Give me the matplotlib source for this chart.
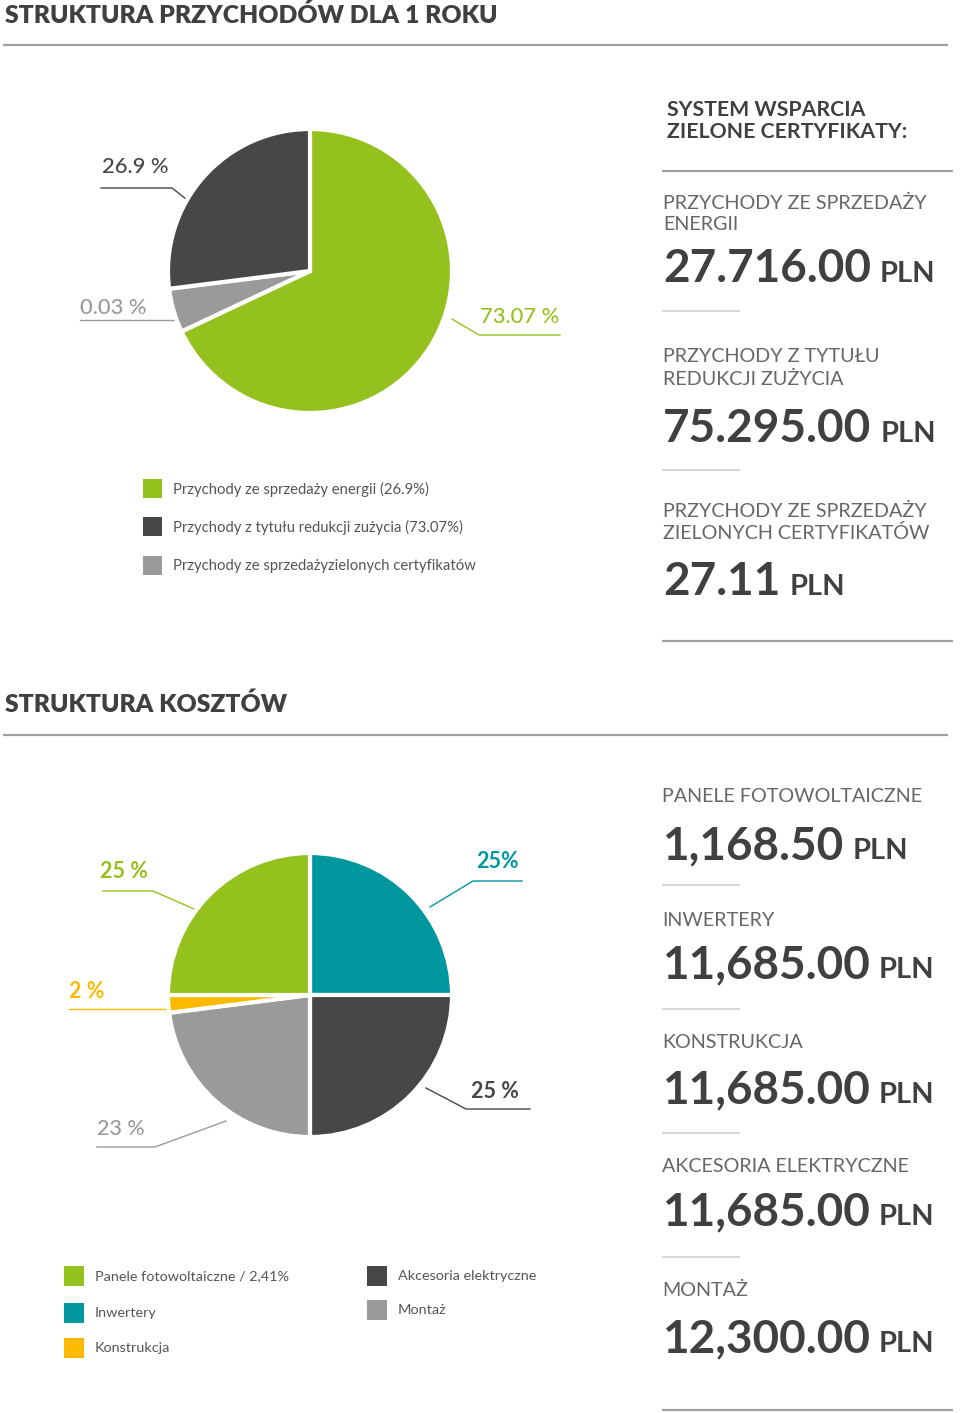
import matplotlib
matplotlib.use('Agg')
import matplotlib.pyplot as plt
from matplotlib.patches import Rectangle

plt.rcParams['font.family'] = ['Lato', 'DejaVu Sans']

# colours
GREEN = '#95c11f'
DARK = '#474747'
GRAY = '#9a9a9a'
TEAL = '#00979f'
YELLOW = '#fbba00'
TEXT = '#404040'
SOFT = '#555555'
RULE = '#a0a0a0'
SHORT_RULE = '#cfcfcf'

# --- revenue structure (shares as drawn, clockwise from 12 o'clock) ---
revenue_share = [68, 5, 27]
revenue_colors = [GREEN, GRAY, DARK]
revenue_pct = ['73.07 %', '0.03 %', '26.9 %']

revenue_legend = ['Przychody ze sprzedaży energii (26.9%)',
                  'Przychody z tytułu redukcji zużycia (73.07%)',
                  'Przychody ze sprzedażyzielonych certyfikatów']
revenue_legend_colors = [GREEN, DARK, GRAY]

revenue_headings = [['PRZYCHODY ZE SPRZEDAŻY', 'ENERGII'],
                    ['PRZYCHODY Z TYTUŁU', 'REDUKCJI ZUŻYCIA'],
                    ['PRZYCHODY ZE SPRZEDAŻY', 'ZIELONYCH CERTYFIKATÓW']]
revenue_amounts = ['27.716.00', '75.295.00', '27.11']

# --- cost structure (clockwise from 12 o'clock) ---
cost_share = [25, 25, 23, 2, 25]
cost_colors = [TEAL, DARK, GRAY, YELLOW, GREEN]
cost_pct = ['25%', '25 %', '23 %', '2 %', '25 %']

cost_legend = ['Panele fotowoltaiczne / 2,41%', 'Inwertery', 'Konstrukcja',
               'Akcesoria elektryczne', 'Montaż']
cost_legend_colors = [GREEN, TEAL, YELLOW, DARK, GRAY]

cost_headings = ['PANELE FOTOWOLTAICZNE', 'INWERTERY', 'KONSTRUKCJA',
                 'AKCESORIA ELEKTRYCZNE', 'MONTAŻ']
cost_amounts = ['1,168.50', '11,685.00', '11,685.00', '11,685.00', '12,300.00']

W, H = 960, 1413
fig = plt.figure(figsize=(W / 100, H / 100), dpi=100)
ax = fig.add_axes([0, 0, 1, 1])
ax.set_xlim(0, W)
ax.set_ylim(H, 0)
ax.axis('off')


def pie_at(cx, cy, r, values, colors):
    pax = fig.add_axes([(cx - r) / W, 1 - (cy + r) / H, 2 * r / W, 2 * r / H])
    pax.pie(values, colors=colors, startangle=90, counterclock=False,
            wedgeprops=dict(edgecolor='white', linewidth=3))
    pax.set_xlim(-1.0, 1.0)
    pax.set_ylim(-1.0, 1.0)
    pax.axis('off')
    return pax


def rule(x0, x1, y, color=RULE, lw=1.6):
    ax.plot([x0, x1], [y, y], color=color, lw=lw, solid_capstyle='butt')


def leader(points, color):
    xs, ys = zip(*points)
    ax.plot(xs, ys, color=color, lw=1.0)


def amount(x, y, value):
    t = ax.text(x, y, value, fontsize=33, fontweight='bold', color=TEXT,
                va='baseline', ha='left')
    fig.canvas.draw()
    bb = t.get_window_extent(renderer=fig.canvas.get_renderer())
    ax.text(bb.x1 + 9, y, 'PLN', fontsize=21, fontweight='bold', color=TEXT,
            va='baseline', ha='left')


def heading(x, y, s):
    ax.text(x, y, s, fontsize=14.2, fontweight='normal', color='#666666',
            va='center')


# ---------------- section 1 ----------------
ax.text(5, 15, 'STRUKTURA PRZYCHODÓW DLA 1 ROKU', fontsize=17.8,
        fontweight='heavy', color=TEXT, va='center')
rule(3, 948, 45)

pie_at(310, 271, 142, revenue_share, revenue_colors)

pct_pos = [(480, 317), (80, 308), (102, 167)]
pct_lines = [[(452, 319), (479, 335), (560, 335)],
             [(80, 320), (174, 320)],
             [(101, 188), (172, 188), (186, 199)]]
for lab, col, (tx, ty), pts in zip(revenue_pct, revenue_colors, pct_pos, pct_lines):
    ax.text(tx, ty, lab, fontsize=15.8, color=col, va='center', ha='left',
            fontweight='medium')
    leader(pts, col)

for i, (lab, col) in enumerate(zip(revenue_legend, revenue_legend_colors)):
    y = [489, 527, 566][i]
    ax.add_patch(Rectangle((143, y - 10), 19, 19, color=col, lw=0))
    ax.text(173, y, lab, fontsize=10.7, color=SOFT, va='center')

# right column
ax.text(667, 110, 'SYSTEM WSPARCIA', fontsize=15.3, fontweight='bold',
        color=TEXT, va='center')
ax.text(667, 132, 'ZIELONE CERTYFIKATY:', fontsize=15.3, fontweight='bold',
        color=TEXT, va='center')
rule(662, 953, 171)

head_y = [203, 357, 511]
amount_y = [282, 442, 595]
for i, (lines, val) in enumerate(zip(revenue_headings, revenue_amounts)):
    heading(663, head_y[i], lines[0])
    heading(663, head_y[i] + 22, lines[1])
    amount(663, amount_y[i], val)
rule(662, 740, 311, SHORT_RULE, 1.2)
rule(662, 740, 470, SHORT_RULE, 1.2)
rule(662, 953, 641)

# ---------------- section 2 ----------------
ax.text(5, 704, 'STRUKTURA KOSZTÓW', fontsize=17.8, fontweight='heavy',
        color=TEXT, va='center')
rule(3, 948, 735)

pie_at(310, 995, 142, cost_share, cost_colors)

cpos = [(476, 862), (471, 1091), (97, 1129), (69, 992), (100, 871)]
clines = [[(430, 907), (473, 881), (522, 881)],
          [(426, 1088), (466, 1109), (530, 1109)],
          [(226, 1121), (155, 1147), (97, 1147)],
          [(69, 1009), (166, 1009)],
          [(103, 891), (153, 891), (194, 909)]]
for lab, col, (tx, ty), pts in zip(cost_pct, cost_colors, cpos, clines):
    ax.text(tx, ty, lab, fontsize=15.5, color=col, va='center', ha='left',
            fontweight='bold' if col != GRAY else 'medium')
    leader(pts, col)

leg_xy = [(64, 1276), (64, 1313), (64, 1348), (367, 1276), (367, 1310)]
for lab, col, (sx, sy) in zip(cost_legend, cost_legend_colors, leg_xy):
    ax.add_patch(Rectangle((sx, sy - 10), 20, 20, color=col, lw=0))
    ax.text(sx + 31, sy, lab, fontsize=10.4, color=SOFT, va='center')

chead_y = [796, 920, 1043, 1166, 1290]
camount_y = [859, 978, 1103, 1225, 1352]
for i, (hd, val) in enumerate(zip(cost_headings, cost_amounts)):
    heading(662, chead_y[i], hd)
    amount(662, camount_y[i], val)
for y in [885, 1009, 1133, 1257]:
    rule(662, 740, y, SHORT_RULE, 1.2)
rule(662, 953, 1410)

fig.savefig('out.png', dpi=100, facecolor='white')
